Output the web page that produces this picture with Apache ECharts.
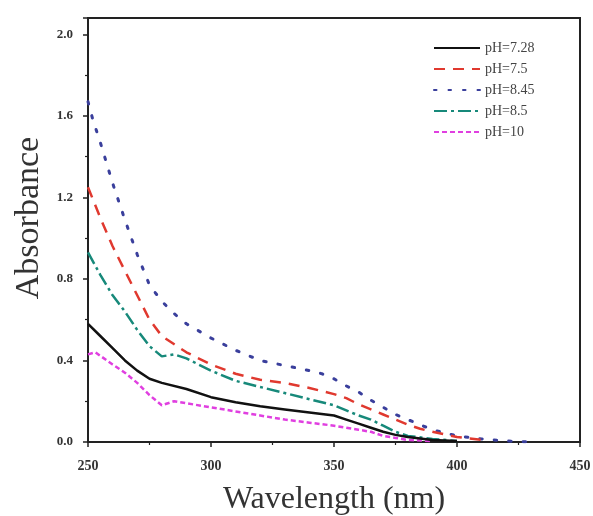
<!DOCTYPE html>
<html><head><meta charset="utf-8">
<script src="https://cdn.jsdelivr.net/npm/echarts@6/dist/echarts.min.js"></script>
<style>html,body{margin:0;padding:0;background:#fff}#c{width:593px;height:516px}</style>
</head><body><div id="c"></div>
<script>
var seriesNames = ["pH=7.28", "pH=7.5", "pH=8.45", "pH=8.5", "pH=10"];
var wl_728 = [250,255,260,265,270,275,280,290,300,310,320,330,340,350,355,360,365,370,375,380,390,400];
var ab_728 = [0.58,0.52,0.46,0.40,0.35,0.31,0.29,0.26,0.22,0.195,0.175,0.16,0.145,0.13,0.11,0.09,0.07,0.05,0.035,0.025,0.01,0.005];
var wl_75 = [250,255,260,265,270,275,280,290,300,310,320,330,340,345,350,355,360,365,370,375,380,385,390,400,410];
var ab_75 = [1.25,1.10,0.96,0.84,0.72,0.60,0.52,0.44,0.38,0.335,0.305,0.29,0.265,0.25,0.235,0.215,0.185,0.16,0.135,0.11,0.085,0.065,0.05,0.025,0.01];
var wl_845 = [250,252,255,260,265,270,275,280,285,290,300,310,320,330,340,345,350,355,360,365,370,375,380,385,390,395,400,410,420,430];
var ab_845 = [1.67,1.58,1.47,1.27,1.09,0.92,0.77,0.69,0.63,0.58,0.51,0.45,0.40,0.375,0.35,0.335,0.31,0.275,0.245,0.205,0.17,0.135,0.11,0.085,0.06,0.045,0.03,0.015,0.005,0.0];
var wl_85 = [250,255,260,265,270,275,280,285,290,300,310,320,330,340,350,355,360,365,370,375,380,390,400];
var ab_85 = [0.93,0.82,0.72,0.64,0.55,0.47,0.42,0.43,0.41,0.35,0.30,0.27,0.24,0.21,0.18,0.155,0.13,0.11,0.08,0.05,0.03,0.015,0.005];
var wl_10 = [250,253,260,265,270,275,280,285,290,300,310,320,330,340,350,360,365,370,375,380,390];
var ab_10 = [0.43,0.44,0.38,0.34,0.29,0.23,0.18,0.20,0.19,0.17,0.15,0.13,0.11,0.095,0.08,0.06,0.05,0.03,0.02,0.01,0.005];
var xTicks = [250,300,350,400,450];
var yTicks = [0.0,0.4,0.8,1.2,1.6,2.0];

function pairs(xs, ys){ return xs.map(function(x,i){ return [x, ys[i]]; }); }
var colors = ["#111111", "#e0392f", "#3a3f9c", "#17897a", "#e03fe0"];
var dashes = ["solid", [11,8], [2.5,12], [13,4,3,4], [5,3]];
var datas = [pairs(wl_728,ab_728), pairs(wl_75,ab_75), pairs(wl_845,ab_845), pairs(wl_85,ab_85), pairs(wl_10,ab_10)];

var chart = echarts.init(document.getElementById('c'), null, {renderer:'canvas'});
var font = "'Liberation Serif', 'DejaVu Serif', serif";
chart.setOption({
  animation: false,
  backgroundColor: '#fff',
  grid: {left: 88, right: 13, top: 18, bottom: 74, show: true, borderColor: '#222', borderWidth: 2,
         outerBoundsMode: 'none', containLabel: false},
  legend: {
    orient: 'vertical', left: 428, top: 36, itemWidth: 46, itemHeight: 14, itemGap: 7,
    itemStyle: {opacity: 0},
    textStyle: {fontFamily: font, fontSize: 14, color: '#444'},
    data: seriesNames
  },
  xAxis: {
    type: 'value', min: xTicks[0], max: xTicks[xTicks.length-1], interval: 50,
    name: 'Wavelength (nm)', nameLocation: 'middle', nameGap: 42,
    nameTextStyle: {fontFamily: font, fontSize: 32, color: '#333'},
    axisLine: {lineStyle: {color: '#222', width: 2}},
    axisTick: {inside: false, length: 5, lineStyle: {color: '#222', width: 1.5}},
    minorTick: {show: true, splitNumber: 2, length: 3, lineStyle: {color: '#222', width: 1.2}},
    axisLabel: {fontFamily: font, fontSize: 14, fontWeight: 'bold', color: '#333', margin: 17},
    splitLine: {show: false}
  },
  yAxis: {
    type: 'value', min: 0, max: 2.08, interval: 0.4,
    name: 'Absorbance', nameLocation: 'middle', nameGap: 42,
    nameTextStyle: {fontFamily: font, fontSize: 34, color: '#333', padding: [0, 0, 0, 24]},
    axisLine: {lineStyle: {color: '#222', width: 2}},
    axisTick: {inside: false, length: 5, lineStyle: {color: '#222', width: 1.5}},
    minorTick: {show: true, splitNumber: 2, length: 3, lineStyle: {color: '#222', width: 1.2}},
    axisLabel: {fontFamily: font, fontSize: 13, fontWeight: 'bold', color: '#333', margin: 15, showMaxLabel: false,
      formatter: function(v){ return v.toFixed(1); }},
    splitLine: {show: false}
  },
  series: seriesNames.map(function(n, i){
    return {
      name: n, type: 'line', data: datas[i], showSymbol: false, symbol: 'none', smooth: false,
      itemStyle: {color: colors[i]},
      lineStyle: {color: colors[i], width: i === 2 ? 3 : 2.5, type: dashes[i], cap: i === 2 ? 'round' : 'butt'},
      z: 5 - i
    };
  })
});
</script></body></html>
